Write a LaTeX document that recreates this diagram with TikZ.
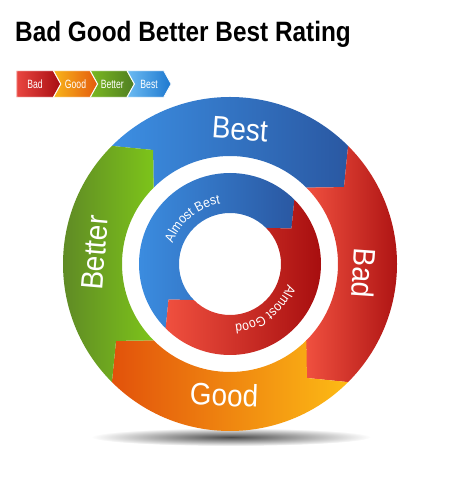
\documentclass[tikz,border=0pt]{standalone}
\usepackage{fontspec}
\setmainfont{Liberation Sans}
\newfontfamily\titlefont[FakeStretch=0.87]{Liberation Sans}
\newfontfamily\ringfont[FakeStretch=0.9]{Liberation Sans}
\newfontfamily\innerfont[FakeStretch=0.9]{Liberation Sans}
\newfontfamily\keyfont[FakeStretch=0.72]{Liberation Sans}
\usetikzlibrary{decorations.text}
\definecolor{bestL}{HTML}{3C8FE3}
\definecolor{bestR}{HTML}{2A58A2}
\definecolor{badL}{HTML}{F0503F}
\definecolor{badR}{HTML}{A30A0C}
\definecolor{goodL}{HTML}{E2520B}
\definecolor{goodR}{HTML}{FDBB15}
\definecolor{betterL}{HTML}{5A8027}
\definecolor{betterR}{HTML}{7DC41A}
\definecolor{keyBadL}{HTML}{E94640}
\definecolor{keyBadR}{HTML}{A80D12}
\definecolor{keyGoodL}{HTML}{F8B51A}
\definecolor{keyGoodR}{HTML}{E45A0E}
\definecolor{keyBetterL}{HTML}{7AB820}
\definecolor{keyBetterR}{HTML}{4F7E22}
\definecolor{keyBestL}{HTML}{6CBBF2}
\definecolor{keyBestR}{HTML}{1D78CF}
\newcommand{\innerstyle}{\innerfont\fontsize{13.5}{14}\selectfont\color{white}}
\tikzset{
  ringlabel/.style={text=white, inner sep=0pt, font=\ringfont\fontsize{31}{31}\selectfont},
  keylabel/.style={text=white, inner sep=0pt, font=\keyfont\fontsize{12}{12}\selectfont},
  keyarrow/.style={draw=white, line width=0.8pt, line join=miter},
}
\begin{document}
\begin{tikzpicture}[x=1pt,y=1pt]
  \useasboundingbox (0,0) rectangle (462,500);
  \node[anchor=base west, inner sep=0pt, font=\titlefont\bfseries\fontsize{28}{28}\selectfont] (title) at (15,458.3) {Bad Good Better Best Rating};

  \foreach \i/\cl/\cr/\txt in {0/keyBadL/keyBadR/Bad, 1/keyGoodL/keyGoodR/Good, 2/keyBetterL/keyBetterR/Better, 3/keyBestL/keyBestR/Best} {
    \pgfmathsetmacro{\xa}{16.7+36.8*\i}
    \pgfmathsetmacro{\nd}{\i==0 ? 0 : 7.4}
    \shade[keyarrow, left color=\cl, right color=\cr] (\xa,429.3) -- ({\xa+36.6},429.3) -- ({\xa+44},416) -- ({\xa+36.6},402.7) -- (\xa,402.7) -- ({\xa+\nd},416) -- cycle;
    \node[keylabel] (key\txt) at ({\xa+(\nd+36.6)/2},416) {\txt};
  }

  \shade[inner color=black!70, outer color=white] (231,63) ellipse [x radius=140, y radius=9];

  \begin{scope}[shift={(230,236)}]
    \foreach \a/\cl/\cr in {135/bestL/bestR, 45/badL/badR, -45/goodL/goodR, -135/betterL/betterR} {
      \pgfmathsetmacro{\b}{\a-90}
      \shade[left color=\cl, right color=\cr] (\a:167) arc[start angle=\a, end angle=\b, radius=167] -- ({\a-101}:137.5) -- (\b:108) arc[start angle=\b, end angle=\a, radius=108] -- ({\a-11}:137.5) -- cycle;
    }
    \foreach \a/\cl/\cr in {225/bestL/bestR, 45/badL/badR} {
      \pgfmathsetmacro{\b}{\a-180}
      \shade[left color=\cl, right color=\cr] (\a:91) arc[start angle=\a, end angle=\b, radius=91] -- ({\a-195}:71) -- (\b:51) arc[start angle=\b, end angle=\a, radius=51] -- ({\a-15}:71) -- cycle;
    }

    \node[ringlabel, rotate=-4] (best) at (85.8:135) {Best};
    \node[ringlabel, rotate=-94] (bad) at (-4:134.3) {Bad};
    \node[ringlabel, rotate=-2] (good) at (-92.6:131) {Good};
    \node[ringlabel, rotate=85] (better) at (175.3:135.5) {Better};

    \path[decorate, decoration={text along path, text align=center, text={|\innerstyle|Almost Best}}] (179.5:61) arc[start angle=179.5, end angle=79.5, radius=61];
    \path[decorate, decoration={text along path, text align=center, text={|\innerstyle|Almost Good}}] (-2.5:61) arc[start angle=-2.5, end angle=-102.5, radius=61];
  \end{scope}
\end{tikzpicture}
\end{document}
